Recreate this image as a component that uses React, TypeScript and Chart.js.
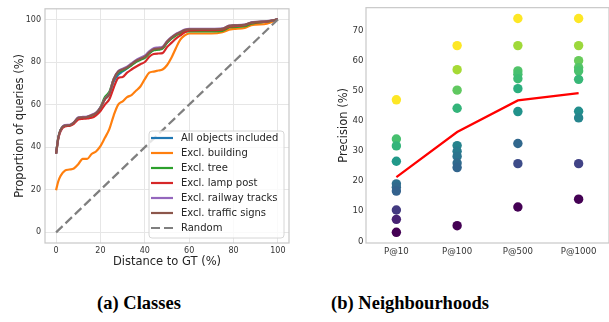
import React, { useEffect, useRef } from "react";
import { Chart, registerables } from "chart.js";
Chart.register(...registerables);

// ---------- (a) Classes ----------
const DIST = [0, 1, 2, 4, 6, 8, 10, 12, 14, 16, 18, 20, 22, 24, 26, 28, 30, 32, 34, 36, 38, 40, 42, 44, 46, 48, 50, 52, 54, 56, 58, 60, 65, 70, 75, 78, 80, 85, 88, 90, 95, 100];
const ALL_OBJECTS = [37, 44.5, 48, 50.2, 50.3, 51.5, 53.7, 53.9, 54.1, 54.9, 55.9, 58.5, 62.5, 64.8, 71, 74, 75.6, 77, 78.7, 80.2, 81.2, 82.2, 84.2, 85.7, 86, 86.5, 89.2, 91.2, 92.7, 93.7, 94.7, 95, 95, 95, 95.2, 96.7, 96.9, 97.3, 98.3, 98.7, 99, 100];
const EXCL_BUILDING = [19.8, 24, 26.5, 29, 29.5, 30, 32, 34.5, 34.5, 36.8, 38, 40.5, 44.4, 48.5, 55, 60, 61.5, 63.5, 64.5, 66.5, 68.5, 72, 75, 75.5, 76, 76.5, 78.5, 82, 86.5, 90.5, 92.5, 93.4, 93.4, 93.4, 94, 95.2, 95.5, 96, 97.3, 97.6, 98, 100];
const EXCL_TREE = [37, 44.5, 48, 50.1, 50.2, 51.4, 53.7, 53.9, 54.1, 54.8, 55.8, 58.8, 63.5, 66, 72, 75, 76, 77.2, 78.5, 80, 81, 82, 84, 85.5, 85.8, 86.3, 89, 91, 92.5, 93.3, 94.2, 94.4, 94.4, 94.4, 94.6, 96.2, 96.4, 96.8, 98, 98.4, 98.9, 100];
const EXCL_LAMP_POST = [37, 44, 47.5, 49.8, 50, 51, 53, 53.3, 53.5, 53.8, 55, 57, 60, 62.5, 68, 72.5, 73, 75, 76.5, 77.8, 79, 80, 82.5, 83.8, 84, 84.2, 87, 89, 91, 92.5, 94, 94.8, 95, 95, 95.2, 96.6, 96.8, 97.3, 98.4, 98.6, 99, 100];
const EXCL_RAILWAY = [37, 44.5, 48, 50.4, 50.5, 51.7, 54, 54.2, 54.4, 55.2, 56.2, 58.7, 62.7, 65.2, 72.2, 75.7, 76.8, 77.8, 79.4, 80.9, 82, 83, 85, 86.5, 86.8, 87.2, 89.8, 91.7, 93.2, 94.2, 95.2, 95.6, 95.6, 95.6, 95.8, 97.1, 97.3, 97.6, 98.6, 98.9, 99.2, 100];
const EXCL_TRAFFIC_SIGNS = [37, 44.5, 48, 50.2, 50.3, 51.5, 53.8, 54, 54.2, 55, 56, 58.5, 62.5, 65, 72, 75.5, 76.5, 77.5, 79, 80.5, 81.5, 82.5, 84.5, 86, 86.3, 86.8, 89.5, 91.5, 93, 94, 95, 95.4, 95.4, 95.4, 95.6, 97, 97.2, 97.5, 98.5, 98.8, 99.1, 100];
const RANDOM_X = [0, 100];
const RANDOM_Y = [0, 100];
const CLASS_TICKS = [0, 20, 40, 60, 80, 100];

// ---------- (b) Neighbourhoods ----------
const P_LABELS = ["P@10", "P@100", "P@500", "P@1000"];
const P10 = [47, 34, 31.7, 26.6, 19.1, 18, 16.7, 10.4, 7.3, 3];
const P100 = [65, 57, 50.2, 44.2, 31.8, 29.9, 28.2, 26, 24.5, 5.2];
const P500 = [74, 65, 56.6, 55.5, 54, 50.7, 43.1, 32.5, 25.8, 11.4];
const P1000 = [74, 65, 60, 57.7, 56.6, 53.8, 43.2, 41, 25.8, 14];
const MEAN_PRECISION = [21.3, 36.3, 46.8, 49.2];
const PREC_TICKS = [0, 10, 20, 30, 40, 50, 60, 70];

const FONT = '"DejaVu Sans", sans-serif';
const TEXT = "#333333";
const SPINE = "#c8c8c8";

const VIRIDIS = ["#440154", "#482475", "#414487", "#355f8d", "#2a788e", "#21918c", "#22a884", "#44bf70", "#7ad151", "#bddf26", "#fde725"];
function hex(c: string) {
  return [1, 3, 5].map((i) => parseInt(c.slice(i, i + 2), 16));
}
function viridis(t: number) {
  const x = Math.max(0, Math.min(1, t)) * (VIRIDIS.length - 1);
  const i = Math.min(Math.floor(x), VIRIDIS.length - 2);
  const f = x - i;
  const a = hex(VIRIDIS[i]);
  const b = hex(VIRIDIS[i + 1]);
  const m = a.map((v, k) => Math.round(v + (b[k] - v) * f));
  return `rgb(${m[0]},${m[1]},${m[2]})`;
}

const framePlugin = {
  id: "frame",
  afterDatasetsDraw(chart: any) {
    const { ctx, chartArea: a } = chart;
    ctx.save();
    ctx.strokeStyle = SPINE;
    ctx.lineWidth = 1.2;
    ctx.strokeRect(a.left, a.top, a.right - a.left, a.bottom - a.top);
    ctx.restore();
  },
};

const innerLegend = {
  id: "innerLegend",
  afterDraw(chart: any) {
    const { ctx, chartArea } = chart;
    const w = 135;
    const h = 107;
    const right = chartArea.right - 5;
    const bottom = chartArea.bottom - 5;
    const left = right - w;
    const top = bottom - h;
    ctx.save();
    ctx.beginPath();
    const r = 3;
    ctx.moveTo(left + r, top);
    ctx.arcTo(right, top, right, bottom, r);
    ctx.arcTo(right, bottom, left, bottom, r);
    ctx.arcTo(left, bottom, left, top, r);
    ctx.arcTo(left, top, right, top, r);
    ctx.closePath();
    ctx.fillStyle = "rgba(255,255,255,0.8)";
    ctx.fill();
    ctx.strokeStyle = "#d6d6d6";
    ctx.lineWidth = 1;
    ctx.stroke();
    chart.data.datasets.forEach((ds: any, i: number) => {
      const y = top + 7 + i * 15;
      ctx.beginPath();
      ctx.setLineDash(ds.borderDash || []);
      ctx.strokeStyle = ds.borderColor;
      ctx.lineWidth = 2.2;
      ctx.moveTo(left + 2, y);
      ctx.lineTo(left + 24, y);
      ctx.stroke();
      ctx.setLineDash([]);
      ctx.fillStyle = "#262626";
      ctx.font = `10px ${FONT}`;
      ctx.textBaseline = "middle";
      ctx.textAlign = "left";
      ctx.fillText(ds.label, left + 32, y);
    });
    ctx.restore();
  },
};

function pts(xs: number[], ys: number[]) {
  return xs.map((x, i) => ({ x, y: ys[i] }));
}

export default function App() {
  const leftRef = useRef<HTMLCanvasElement>(null);
  const rightRef = useRef<HTMLCanvasElement>(null);

  useEffect(() => {
    const lineDs = (label: string, ys: number[], color: string, order: number) => ({
      label,
      data: pts(DIST, ys),
      borderColor: color,
      backgroundColor: color,
      borderWidth: 2.2,
      pointRadius: 0,
      cubicInterpolationMode: "monotone",
      order,
    });
    const left = new Chart(leftRef.current as HTMLCanvasElement, {
      type: "line",
      data: {
        datasets: [
          lineDs("All objects included", ALL_OBJECTS, "#1f77b4", 7),
          lineDs("Excl. building", EXCL_BUILDING, "#ff7f0e", 6),
          lineDs("Excl. tree", EXCL_TREE, "#2ca02c", 5),
          lineDs("Excl. lamp post", EXCL_LAMP_POST, "#d62728", 4),
          lineDs("Excl. railway tracks", EXCL_RAILWAY, "#9467bd", 3),
          lineDs("Excl. traffic signs", EXCL_TRAFFIC_SIGNS, "#8c564b", 2),
          {
            label: "Random",
            data: pts(RANDOM_X, RANDOM_Y),
            borderColor: "#7f7f7f",
            backgroundColor: "#7f7f7f",
            borderWidth: 2.2,
            borderDash: [9, 4],
            pointRadius: 0,
            order: 1,
          } as any,
        ] as any,
      },
      options: {
        animation: false,
        responsive: false,
        layout: { padding: { top: 6, right: 11, left: 13, bottom: 11 } },
        plugins: { legend: { display: false }, tooltip: { enabled: false } },
        scales: {
          x: {
            type: "linear",
            min: -5,
            max: 105,
            afterBuildTicks: (s: any) => {
              s.ticks = CLASS_TICKS.map((v) => ({ value: v }));
            },
            afterFit: (s: any) => {
              s.height = 26;
            },
            grid: { color: "#e6e6e6", drawTicks: false, lineWidth: 1 },
            border: { display: false },
            ticks: { font: { family: FONT, size: 8 }, color: TEXT, padding: 3.5, maxRotation: 0, autoSkip: false },
            title: { display: true, text: "Distance to GT (%)", font: { family: FONT, size: 11.5 }, color: "#262626", padding: 0 },
          },
          y: {
            type: "linear",
            min: -5,
            max: 105,
            afterBuildTicks: (s: any) => {
              s.ticks = CLASS_TICKS.map((v) => ({ value: v }));
            },
            afterFit: (s: any) => {
              s.width = 32;
            },
            grid: { color: "#e6e6e6", drawTicks: false, lineWidth: 1 },
            border: { display: false },
            ticks: { font: { family: FONT, size: 8 }, color: TEXT, padding: 4 },
            title: { display: true, text: "Proportion of queries (%)", font: { family: FONT, size: 11.5 }, color: "#262626", padding: 0 },
          },
        },
      } as any,
      plugins: [framePlugin, innerLegend],
    });

    const cols = [P10, P100, P500, P1000];
    const scatterPts: { x: number; y: number }[] = [];
    const scatterCols: string[] = [];
    cols.forEach((col, i) => {
      const mn = Math.min(...col);
      const mx = Math.max(...col);
      col.forEach((v) => {
        scatterPts.push({ x: i, y: v });
        scatterCols.push(viridis((v - mn) / (mx - mn)));
      });
    });

    const right = new Chart(rightRef.current as HTMLCanvasElement, {
      type: "scatter",
      data: {
        datasets: [
          {
            type: "line",
            label: "mean",
            data: MEAN_PRECISION.map((v, i) => ({ x: i, y: v })),
            borderColor: "#ff0000",
            borderWidth: 2.2,
            pointRadius: 0,
            showLine: true,
            order: 0,
          } as any,
          {
            label: "neighbourhoods",
            data: scatterPts,
            backgroundColor: scatterCols,
            borderWidth: 0,
            pointRadius: 4.7,
            order: 1,
          },
        ],
      },
      options: {
        animation: false,
        responsive: false,
        layout: { padding: { top: 6, right: 21, left: 37, bottom: 12 } },
        plugins: { legend: { display: false }, tooltip: { enabled: false } },
        scales: {
          x: {
            type: "linear",
            min: -0.5,
            max: 3.5,
            afterBuildTicks: (s: any) => {
              s.ticks = P_LABELS.map((_, i) => ({ value: i }));
            },
            afterFit: (s: any) => {
              s.height = 25;
            },
            grid: { display: false, drawTicks: false },
            border: { display: false },
            ticks: {
              font: { family: FONT, size: 8.6 },
              color: TEXT,
              padding: 3.5,
              maxRotation: 0,
              autoSkip: false,
              callback: (v: any) => P_LABELS[Math.round(v)] ?? "",
            },
          },
          y: {
            type: "linear",
            min: -0.55,
            max: 77.6,
            afterBuildTicks: (s: any) => {
              s.ticks = PREC_TICKS.map((v) => ({ value: v }));
            },
            afterFit: (s: any) => {
              s.width = 29;
            },
            grid: { display: false, drawTicks: false },
            border: { display: false },
            ticks: { font: { family: FONT, size: 8.6 }, color: TEXT, padding: 2.5 },
            title: { display: true, text: "Precision (%)", font: { family: FONT, size: 11.5 }, color: "#262626", padding: 0 },
          },
        },
      } as any,
      plugins: [framePlugin],
    });

    return () => {
      left.destroy();
      right.destroy();
    };
  }, []);

  const caption: React.CSSProperties = {
    position: "absolute",
    top: 293,
    width: 220,
    textAlign: "center",
    fontFamily: '"Liberation Serif", "Times New Roman", serif',
    fontWeight: 700,
    fontSize: 18.5,
    lineHeight: "20px",
    color: "#000",
    whiteSpace: "nowrap",
  };

  return (
    <div style={{ position: "absolute", left: 0, top: 0, width: 609, height: 322, overflow: "hidden", background: "#fff" }}>
      <canvas ref={leftRef} width={300} height={280} style={{ position: "absolute", left: 0, top: 0 }} />
      <div style={{ position: "absolute", left: 300, top: 0, width: 309, height: 280, overflow: "hidden" }}>
        <canvas ref={rightRef} width={330} height={280} style={{ position: "absolute", left: 0, top: 0 }} />
      </div>
      <div style={{ ...caption, left: 139 - 110 }}>(a) Classes</div>
      <div style={{ ...caption, left: 410 - 110 }}>(b) Neighbourhoods</div>
    </div>
  );
}
